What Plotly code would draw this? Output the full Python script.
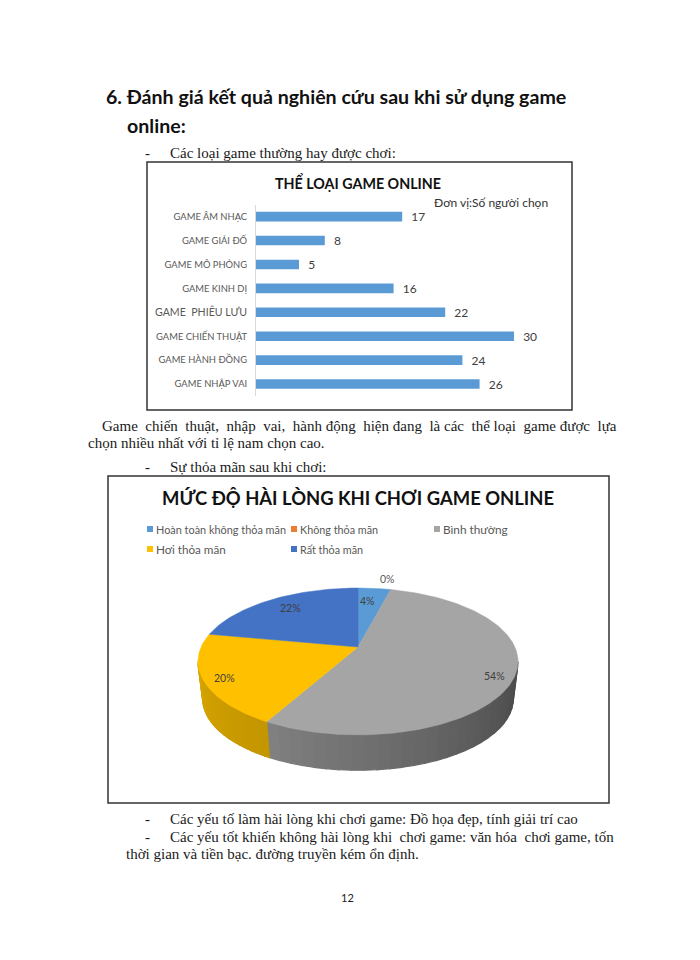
import numpy as np
import plotly.graph_objects as go

# bar chart data, bottom to top
genre_labels = ['GAME NHẬP VAI', 'GAME HÀNH ĐỒNG', 'GAME CHIẾN THUẬT', 'GAME  PHIÊU LƯU',
                'GAME KINH DỊ', 'GAME MÔ PHỎNG', 'GAME GIẢI ĐỐ', 'GAME ÂM NHẠC']
genre_values = [26, 24, 30, 22, 16, 5, 8, 17]

# pie data, clockwise from the top
level_labels = ['Hoàn toàn không thỏa mãn', 'Không thỏa mãn', 'Bình thường', 'Hơi thỏa mãn', 'Rất thỏa mãn']
level_values = [4, 0, 54, 20, 22]
level_colors = ['#5B9BD5', '#ED7D31', '#A5A5A5', '#FFC000', '#4472C4']

BODY = 'Liberation Serif'
HEAD = 'Lato, Noto Sans'
NB = '\u00a0'

# pie projection, page pixels
CX, CY = 358, 647
A, B, K = 156.9, 70.6, 0.197
DEPTH, SHRINK = 38, 0.97


def project(t, r=1.0, depth=0.0, scale=1.0):
    u, v = r * np.sin(t), r * np.cos(t)
    w = 1 + K * v
    return CX + scale * A * u / w, CY + depth - scale * B * v / w


def arc(t0, t1):
    return np.linspace(t0, t1, max(2, int(abs(t1 - t0) * 60)))


def mix(c0, c1, f):
    rgb = [int(a + (b - a) * f) for a, b in zip(c0, c1)]
    return 'rgb(%d,%d,%d)' % tuple(rgb)


fig = go.Figure()

edges = np.cumsum([0] + level_values) / 100 * 2 * np.pi
t_right = np.arccos(-K)
t_left = 2 * np.pi - t_right

# side wall of the pie
walls = [
    (t_right, edges[3], (72, 72, 72), (128, 128, 128)),
    (edges[3], t_left, (196, 150, 0), (214, 165, 0)),
]
for t0, t1, c0, c1 in walls:
    n = 28
    cuts = np.linspace(t0, t1, n + 1)
    for i in range(n):
        ts = arc(cuts[i], cuts[i + 1])
        x0, y0 = project(ts)
        x1, y1 = project(ts[::-1], depth=DEPTH, scale=SHRINK)
        col = mix(c0, c1, i / (n - 1))
        fig.add_trace(go.Scatter(
            x=np.r_[x0, x1, x0[0]], y=np.r_[y0, y1, y0[0]], fill='toself', fillcolor=col,
            mode='lines', line=dict(color=col, width=1.2), hoverinfo='skip', showlegend=False,
        ))

# top face of the pie
for i, name in enumerate(level_labels):
    if level_values[i] == 0:
        continue
    x, y = project(arc(edges[i], edges[i + 1]))
    fig.add_trace(go.Scatter(
        x=np.r_[CX, x, CX], y=np.r_[CY, y, CY], fill='toself', fillcolor=level_colors[i],
        mode='lines', line=dict(color=level_colors[i], width=0.5), name=name,
        hoverinfo='name', showlegend=False,
    ))

# bar chart
fig.add_trace(go.Bar(
    x=genre_values, y=genre_labels, orientation='h', xaxis='x2', yaxis='y2',
    marker=dict(color='#5B9BD5', line=dict(width=0)), width=0.4,
    texttemplate=NB + NB + '%{x}', textposition='outside', cliponaxis=False, constraintext='none',
    textfont=dict(family=HEAD, size=12, color='#404040'), showlegend=False,
))


def put(x, y, text, size, family=BODY, color='#1a1a1a', anchor='left', bold=False):
    if bold:
        text = '<b>%s</b>' % text
    if anchor == 'left':
        x -= 2  # annotation box padding
    fig.add_annotation(x=x, y=y, xref='x', yref='y', text=text, showarrow=False, xanchor=anchor,
                       yanchor='middle', font=dict(family=family, size=size, color=color))


def frame(x0, y0, x1, y1):
    fig.add_shape(type='rect', x0=x0, y0=y0, x1=x1, y1=y1, xref='x', yref='y',
                  line=dict(color='#333333', width=1.5))


# page text
put(106, 96, '6. Đánh giá kết quả nghiên cứu sau khi sử dụng game', 19.6, HEAD, '#111111', bold=True)
put(127, 125, 'online:', 19.6, HEAD, '#111111', bold=True)
put(145, 153, '-', 15)
put(170, 153, 'Các loại game thường hay được chơi:', 15)
put(102, 426, f'Game {NB}chiến {NB}thuật, {NB}nhập {NB}vai, {NB}hành động {NB}hiện đang {NB}là các {NB}thể loại '
    f'{NB}game được {NB}lựa', 15)
put(88, 443, 'chọn nhiều nhất với tỉ lệ nam chọn cao.', 15)
put(145, 467, '-', 15)
put(170, 467, 'Sự thỏa mãn sau khi chơi:', 15)
put(145, 819, '-', 15)
put(170, 819, 'Các yếu tố làm hài lòng khi chơi game: Đồ họa đẹp, tính giải trí cao', 15)
put(145, 837, '-', 15)
put(170, 837, f'Các yếu tốt khiến không hài lòng khi {NB}chơi game: văn hóa {NB}chơi game, tốn', 15)
put(126, 854, 'thời gian và tiền bạc. đường truyền kém ổn định.', 15)
put(347, 897, '12', 11, HEAD, '#222222', anchor='center')

# chart frames and titles
frame(147, 162, 572, 410)
frame(108, 476, 609, 803)
put(358, 182, 'THỂ LOẠI GAME ONLINE', 14.3, HEAD, '#111111', anchor='center', bold=True)
put(491, 202, 'Đơn vị:Số người chọn', 12, HEAD, '#333333', anchor='center')
put(358, 498, 'MỨC ĐỘ HÀI LÒNG KHI CHƠI GAME ONLINE', 18.4, HEAD, '#111111', anchor='center', bold=True)

# pie legend
legend_pos = [(150, 529), (294, 529), (437, 529), (150, 549), (294, 549)]
legend_sizes = [10.9, 10.8, 11.8, 11.7, 10.8]
for (lx, ly), name, col, fs in zip(legend_pos, level_labels, level_colors, legend_sizes):
    fig.add_shape(type='rect', x0=lx - 3, x1=lx + 3, y0=ly - 3, y1=ly + 3, xref='x', yref='y',
                  fillcolor=col, line=dict(width=0))
    put(lx + 6, ly, name, fs, HEAD, '#595959')

# pie labels
label_pos = [(367, 601), (387, 579), (494, 676), (224, 678), (290, 608)]
label_cols = ['#404040', '#595959', '#404040', '#404040', '#404040']
for (lx, ly), v, col in zip(label_pos, level_values, label_cols):
    put(lx, ly, '%d%%' % v, 10.5, HEAD, col, anchor='center')

# the odd one out is set a little larger in the reference
tick_text = ['<span style="font-size:10.6px">%s</span>' % g if 'PHIÊU' in g else g for g in genre_labels]

fig.update_layout(
    width=700, height=960,
    margin=dict(l=0, r=0, t=0, b=0),
    paper_bgcolor='white', plot_bgcolor='white',
    bargap=0.6,
    xaxis=dict(range=[0, 700], domain=[0, 1], visible=False, fixedrange=True),
    yaxis=dict(range=[960, 0], domain=[0, 1], visible=False, fixedrange=True),
    xaxis2=dict(range=[0, 35], domain=[256 / 700, 557 / 700], anchor='y2', visible=False),
    yaxis2=dict(
        domain=[1 - 396 / 960, 1 - 204.7 / 960], anchor='x2', type='category',
        categoryorder='array', categoryarray=genre_labels,
        tickmode='array', tickvals=genre_labels, ticktext=tick_text,
        showgrid=False, showline=True, linecolor='#d9d9d9', linewidth=1,
        ticks='outside', ticklen=6, tickcolor='rgba(0,0,0,0)',
        tickfont=dict(family=HEAD, size=9.4, color='#595959'),
    ),
)

fig.write_html('out.html', config={'displayModeBar': False}, post_script="document.body.style.margin='0';")
